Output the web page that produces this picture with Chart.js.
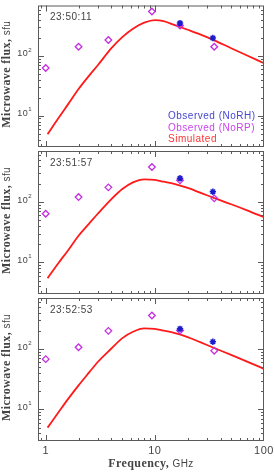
<!DOCTYPE html>
<html>
<head>
<meta charset="utf-8">
<script src="https://cdn.jsdelivr.net/npm/chart.js@4.4.0/dist/chart.umd.min.js"></script>
<style>
  body { margin: 0; background: #fff; }
  #wrap { position: relative; width: 275px; height: 472px; }
  #wrap canvas { position: absolute; left: 0; top: 0; }
</style>
</head>
<body>
<div id="wrap">
  <canvas id="p1" width="275" height="472"></canvas>
  <canvas id="p2" width="275" height="472"></canvas>
  <canvas id="p3" width="275" height="472"></canvas>
</div>
<script>
// frequencies, GHz
const freqNoRP = [1, 2, 3.75, 9.4, 17, 35];
const freqNoRH = [17, 34];
const freqSim = [1.04, 1.3, 1.6, 2, 2.5, 3, 4, 5, 6.3, 8, 10, 12, 15, 20, 26, 35, 50, 70, 100];

// fluxes, sfu
const times = ['23:50:11', '23:51:57', '23:52:53'];
const norp1 = [63, 143, 185, 555, 324, 143];
const norh1 = [355, 200];
const sim1 = [4.9, 9.0, 15.5, 28, 47, 70, 135, 205, 287, 362, 398, 383, 332, 275, 230, 183, 135, 102, 76];
const norp2 = [64, 121, 175, 380, 229, 115];
const norh2 = [247, 148];
const sim2 = [5.5, 9.6, 15.8, 27.7, 44, 64, 112, 163, 212, 238, 233, 217, 199, 171, 143, 116, 92, 73, 56];
const norp3 = [68, 107, 200, 359, 203, 94];
const norh3 = [216, 132];
const sim3 = [5.0, 8.8, 14.8, 25, 41, 61, 102, 150, 193, 220, 216, 201, 186, 158, 130, 104, 80, 62, 47];

const xTickLabels = ['1', '10', '100'];
const yTickLabels = [[10, '1'], [100, '2']];

const panels = [
  {id: 'p1', top: 4, bottom: 147, time: times[0], norp: norp1, norh: norh1, sim: sim1, legend: true},
  {id: 'p2', top: 151, bottom: 294, time: times[1], norp: norp2, norh: norh2, sim: sim2},
  {id: 'p3', top: 298, bottom: 441, time: times[2], norp: norp3, norh: norh3, sim: sim3, xaxis: true}
];

const SANS = '"Liberation Sans", Arial, sans-serif';
const SERIF = '"Liberation Serif", "Times New Roman", serif';
const TXT = '#444';

function pts(xs, ys) {
  return xs.map((x, i) => ({x: x, y: ys[i]}));
}

function logTicks(min, max) {
  // decade and in-between values for the IDL style box
  const out = [];
  for (let e = -1; e <= 3; e++) {
    for (let k = 1; k <= 9; k++) {
      const v = k * Math.pow(10, e);
      if (v > min * 1.001 && v < max * 0.999) out.push({v: v, major: k === 1});
    }
  }
  return out;
}

const frame = {
  id: 'frame',
  afterDraw(chart, args, o) {
    const {ctx, chartArea: a} = chart;
    const x = chart.scales.x, y = chart.scales.y;
    ctx.save();
    ctx.strokeStyle = '#5a5a5a';
    ctx.lineWidth = 1;
    ctx.strokeRect(a.left + 0.5, a.top + 0.5, a.right - a.left - 1, a.bottom - a.top - 1);

    ctx.beginPath();
    logTicks(x.min, x.max).forEach(t => {
      const px = Math.round(x.getPixelForValue(t.v)) + 0.5;
      const len = t.major ? 6 : 3;
      ctx.moveTo(px, a.bottom); ctx.lineTo(px, a.bottom - len);
      ctx.moveTo(px, a.top); ctx.lineTo(px, a.top + len);
    });
    logTicks(y.min, y.max).forEach(t => {
      const py = Math.round(y.getPixelForValue(t.v)) + 0.5;
      const len = t.major ? 6 : 3;
      ctx.moveTo(a.left, py); ctx.lineTo(a.left + len, py);
      ctx.moveTo(a.right, py); ctx.lineTo(a.right - len, py);
    });
    ctx.stroke();

    ctx.fillStyle = TXT;
    ctx.textBaseline = 'middle';
    ctx.letterSpacing = '0.5px';

    // y tick labels 10^n
    yTickLabels.forEach(([v, e]) => {
      const py = y.getPixelForValue(v);
      ctx.font = '6px ' + SANS;
      const we = ctx.measureText(e).width;
      ctx.font = '9px ' + SANS;
      const wb = ctx.measureText('10').width;
      const xr = a.left - 6;
      ctx.textAlign = 'left';
      ctx.fillText('10', xr - we - wb, py - 2);
      ctx.font = '6px ' + SANS;
      ctx.fillText(e, xr - we, py - 6);
    });

    // timestamp
    ctx.font = '10px ' + SANS;
    ctx.textAlign = 'left';
    ctx.fillText(o.time, a.left + 12, a.top + 12);

    // legend
    if (o.legend) {
      const rows = [['Observed (NoRH)', '#4646d2'], ['Observed (NoRP)', '#cc44ee'], ['Simulated', '#ff3333']];
      rows.forEach(([t, c], i) => {
        ctx.fillStyle = c;
        ctx.fillText(t, 168, a.top + 111 + i * 11.5);
      });
      ctx.fillStyle = TXT;
    }

    // y title: bold serif part + sans unit
    const cy = (a.top + a.bottom) / 2 - 2;
    ctx.translate(7, cy);
    ctx.rotate(-Math.PI / 2);
    ctx.font = 'bold 12px ' + SERIF;
    ctx.letterSpacing = '0.4px';
    const w1 = ctx.measureText('Microwave flux, ').width;
    ctx.font = '10px ' + SANS;
    const w2 = ctx.measureText('sfu').width;
    let sx = -(w1 + w2) / 2;
    ctx.font = 'bold 12px ' + SERIF;
    ctx.fillText('Microwave flux, ', sx, 0);
    ctx.font = '10px ' + SANS;
    ctx.fillText('sfu', sx + w1, 0);
    ctx.setTransform(1, 0, 0, 1, 0, 0);

    if (o.xaxis) {
      ctx.font = '11px ' + SANS;
      ctx.letterSpacing = '0.5px';
      ctx.textAlign = 'center';
      [1, 10, 100].forEach((v, i) => {
        ctx.fillText(xTickLabels[i], x.getPixelForValue(v), a.bottom + 10);
      });
      ctx.textAlign = 'left';
      ctx.font = 'bold 12px ' + SERIF;
      ctx.letterSpacing = '0.4px';
      const f1 = ctx.measureText('Frequency, ').width;
      ctx.font = '10px ' + SANS;
      const f2 = ctx.measureText('GHz').width;
      const fx = (a.left + a.right) / 2 - (f1 + f2) / 2;
      ctx.font = 'bold 12px ' + SERIF;
      ctx.fillText('Frequency, ', fx, a.bottom + 23);
      ctx.font = '10px ' + SANS;
      ctx.fillText('GHz', fx + f1, a.bottom + 23);
    }
    ctx.restore();
  }
};

panels.forEach(p => {
  new Chart(document.getElementById(p.id), {
    type: 'scatter',
    data: {
      datasets: [
        {
          label: 'Observed (NoRH)',
          data: pts(freqNoRH, p.norh),
          pointStyle: 'star',
          pointRadius: 3.2,
          borderColor: '#1c1ccc',
          borderWidth: 1.5,
          backgroundColor: 'transparent'
        },
        {
          label: 'Observed (NoRP)',
          data: pts(freqNoRP, p.norp),
          pointStyle: 'rectRot',
          pointRadius: 3.3,
          borderColor: '#c42ee0',
          borderWidth: 1.3,
          backgroundColor: 'transparent'
        },
        {
          label: 'Simulated',
          data: pts(freqSim, p.sim),
          showLine: true,
          pointRadius: 0,
          borderColor: '#ff1a1a',
          borderWidth: 1.8,
          cubicInterpolationMode: 'monotone'
        }
      ]
    },
    options: {
      responsive: false,
      animation: false,
      events: [],
      layout: {
        padding: {left: 38, right: 11, top: p.top, bottom: 472 - p.bottom}
      },
      plugins: {
        legend: {display: false},
        tooltip: {enabled: false},
        frame: {time: p.time, legend: p.legend, xaxis: p.xaxis}
      },
      scales: {
        x: {type: 'logarithmic', min: 0.85, max: 100, display: false},
        y: {type: 'logarithmic', min: 3, max: 700, display: false}
      }
    },
    plugins: [frame]
  });
});
</script>
</body>
</html>
